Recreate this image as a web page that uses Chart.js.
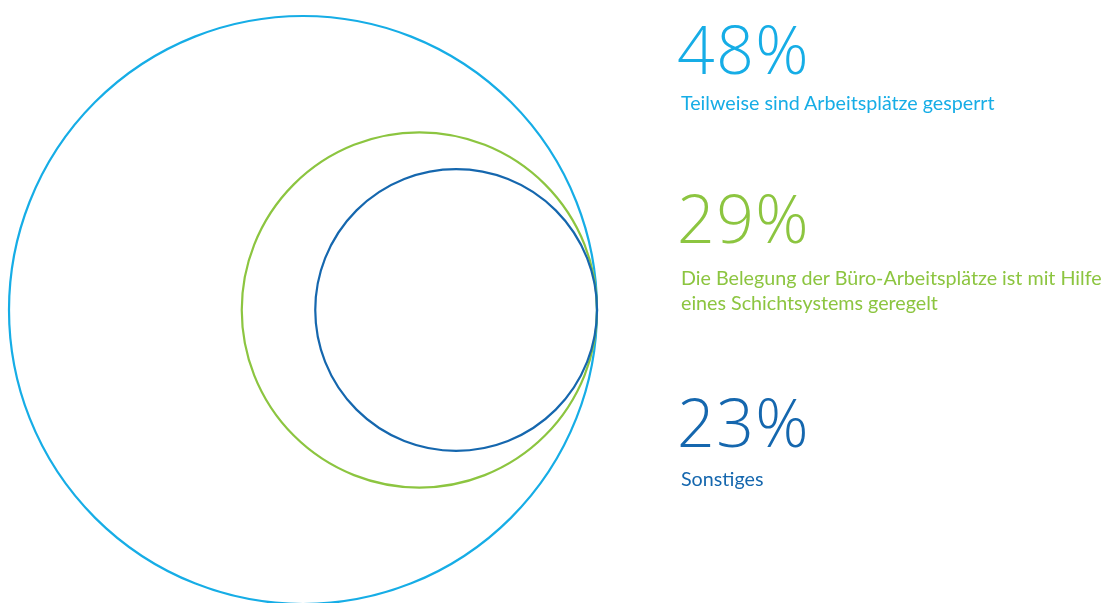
<!DOCTYPE html>
<html>
<head>
<meta charset="utf-8">
<script src="https://cdn.jsdelivr.net/npm/chart.js"></script>
<style>
  html, body { margin: 0; padding: 0; background: #fff; }
  #wrap { position: relative; width: 1106px; height: 603px; overflow: hidden; }
  #chart { position: absolute; left: 0; top: 0; }
  .lbl { position: absolute; left: 677px; white-space: nowrap; }
  .big { font-family: "Open Sans", sans-serif; font-weight: 300; font-size: 66px; line-height: 1; letter-spacing: 1.5px; }
  .small { font-family: "Lato", sans-serif; font-size: 19.7px; line-height: 25px; left: 681px; }
</style>
</head>
<body>
<div id="wrap">
  <canvas id="chart" width="1106" height="603"></canvas>
  <div id="labels"></div>
</div>
<script>
// survey shares (percent), radius of each ring is proportional to the share
let categories = ['Teilweise sind Arbeitsplätze gesperrt',
                  'Die Belegung der Büro-Arbeitsplätze ist mit Hilfe\neines Schichtsystems geregelt',
                  'Sonstiges'];
let shares = [48, 29, 23];
let colors = ['#16ade6', '#8cc540', '#1567ae'];
let percentLabels = ['48%', '29%', '23%'];

const canvas = document.getElementById('chart');
const ctx2d = canvas.getContext('2d');

// rings touch on the right: center x = -share, y = 0 (data units)
const points = shares.map(v => ({ x: -v, y: 0, r: 1 }));

const chart = new Chart(ctx2d, {
    type: 'bubble',
    data: {
        labels: categories,
        datasets: [{
            data: points,
            backgroundColor: 'rgba(0,0,0,0)',
            borderColor: colors,
            borderWidth: 2.2,
            hoverBorderWidth: 2.2
        }]
    },
    options: {
        responsive: false,
        animation: false,
        layout: { padding: 0, autoPadding: false },
        clip: false,
        plugins: { legend: { display: false }, tooltip: { enabled: false } },
        scales: {
            x: { type: 'linear', min: -97.47, max: 83.1, display: false },
            y: { type: 'linear', min: -47.84, max: 50.61, display: false }
        }
    }
});

// radius in pixels taken from the x scale, so ring size follows the share
let sx = chart.scales.x;
points.forEach((p, i) => {
    p.r = sx.getPixelForValue(shares[i]) - sx.getPixelForValue(0);
});
chart.update();

// text blocks on the right
const tops = [[15, 90], [184, 265], [388, 466]];
let labelBox = document.getElementById('labels');
categories.forEach((cat, i) => {
    let big = document.createElement('div');
    big.className = 'lbl big';
    big.style.color = colors[i];
    big.style.top = tops[i][0] + 'px';
    big.textContent = percentLabels[i];
    labelBox.appendChild(big);

    let small = document.createElement('div');
    small.className = 'lbl small';
    small.style.color = colors[i];
    small.style.top = tops[i][1] + 'px';
    small.innerHTML = cat.replace('\n', '<br>');
    labelBox.appendChild(small);
});
</script>
</body>
</html>
